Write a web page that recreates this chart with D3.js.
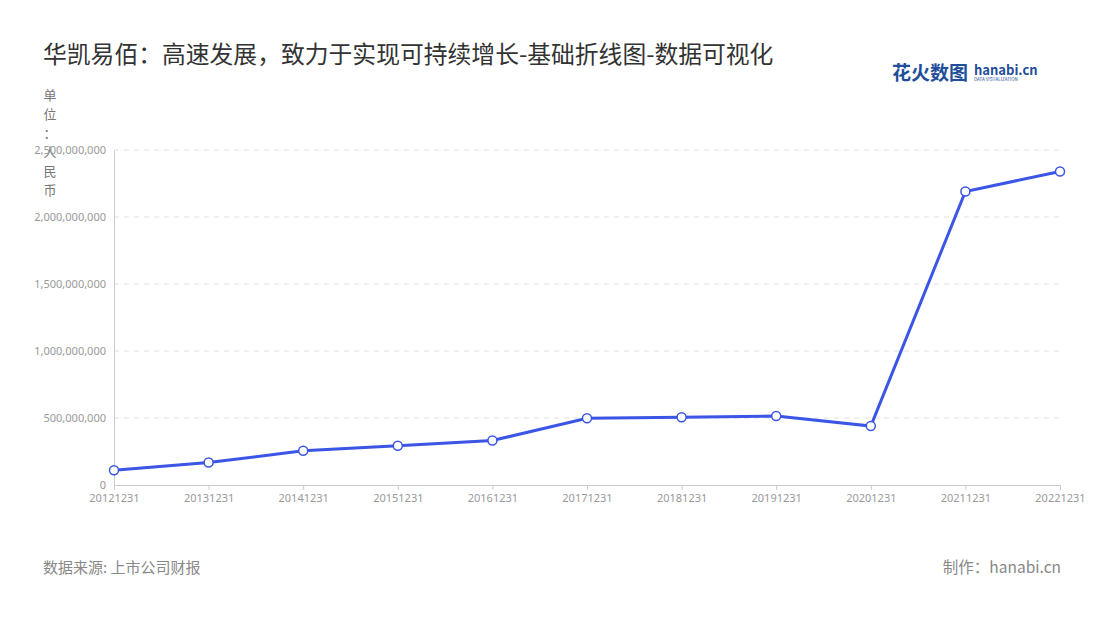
<!DOCTYPE html><html><head><meta charset="utf-8"><script src="https://cdn.jsdelivr.net/npm/d3@7"></script>
<style>body{margin:0;background:#fff;font-family:"Noto Sans CJK SC","Noto Sans",sans-serif}</style></head><body><svg id="c" width="1100" height="620"></svg>
<script>
const categories=["20121231","20131231","20141231","20151231","20161231","20171231","20181231","20191231","20201231","20211231","20221231"];
const values=[110e6,168e6,255e6,293e6,332e6,498e6,505e6,515e6,440e6,2190e6,2340e6];
const yTicks=[0,500e6,1000e6,1500e6,2000e6,2500e6];
const svg=d3.select("#c");
const x=d3.scalePoint().domain(categories).range([114,1060]);
const y=d3.scaleLinear().domain([0,2500e6]).range([485,150]);
svg.append("text").attr("x",43).attr("y",63).attr("font-size",23.8).attr("fill","#333").text("华凯易佰：高速发展，致力于实现可持续增长-基础折线图-数据可视化");
const lg=svg.append("g");
lg.append("text").attr("x",892).attr("y",80).attr("font-size",19).attr("font-weight","bold").attr("fill","#1f4e9a").text("花火数图");
lg.append("text").attr("x",974).attr("y",75).attr("font-size",13).attr("font-weight","bold").attr("fill","#1f4e9a").text("hanabi.cn");
lg.append("text").attr("x",974).attr("y",81).attr("font-size",4.5).attr("fill","#1f4e9a").text("DATA VISUALIZATION");
const yl=svg.append("g").attr("font-size",13).attr("fill","#777");
["单","位","：","人","民","币"].forEach((c,i)=>yl.append("text").attr("x",50).attr("y",100+i*19).attr("text-anchor","middle").text(c));
svg.append("g").selectAll("line").data(yTicks.slice(1)).join("line").attr("x1",114).attr("x2",1060).attr("y1",d=>y(d)).attr("y2",d=>y(d)).attr("stroke","#e0e0e0").attr("stroke-dasharray","5,5");
const ya=svg.append("g").attr("transform","translate(114,0)").call(d3.axisLeft(y).tickValues(yTicks).tickFormat(d3.format(",")).tickSize(0).tickPadding(8));
ya.select(".domain").attr("stroke","#ccc");ya.selectAll("text").attr("fill","#999").attr("font-size",11).attr("font-family","Noto Sans");
const xa=svg.append("g").attr("transform","translate(0,485)").call(d3.axisBottom(x).tickSize(5).tickPadding(4));
xa.select(".domain").attr("stroke","#ccc");xa.selectAll("line").attr("stroke","#ccc");xa.selectAll("text").attr("fill","#999").attr("font-size",11).attr("font-family","Noto Sans");
svg.append("path").datum(values).attr("fill","none").attr("stroke","#3b55e6").attr("stroke-width",3).attr("d",d3.line().x((d,i)=>x(categories[i])).y(d=>y(d)));
svg.append("g").selectAll("circle").data(values).join("circle").attr("cx",(d,i)=>x(categories[i])).attr("cy",d=>y(d)).attr("r",4.5).attr("fill","#fff").attr("stroke","#3b55e6").attr("stroke-width",1.5);
svg.append("text").attr("x",43).attr("y",573).attr("font-size",15).attr("fill","#888").text("数据来源: 上市公司财报");
svg.append("text").attr("x",1061).attr("y",573).attr("font-size",15.5).attr("fill","#888").attr("text-anchor","end").text("制作：hanabi.cn");
</script></body></html>
